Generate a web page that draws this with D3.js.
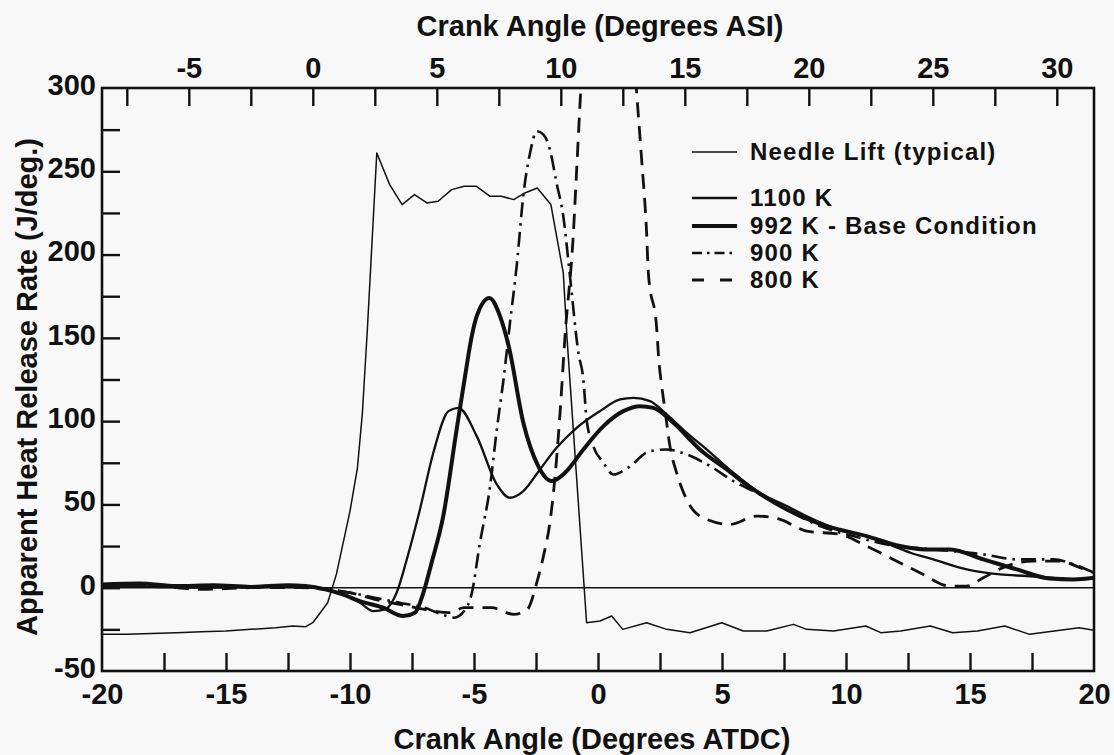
<!DOCTYPE html>
<html>
<head>
<meta charset="utf-8">
<script src="https://cdn.jsdelivr.net/npm/d3@7"></script>
<style>
  html, body { margin: 0; padding: 0; background: #f8f8f8; }
  svg { display: block; }
  text { font-family: "Liberation Sans", Arial, Helvetica, sans-serif; font-weight: bold; fill: #111; }
</style>
</head>
<body>
<svg id="chart" width="1114" height="755"></svg>
<script>
// Crank angle (deg ATDC) and apparent heat release rate (J/deg) pairs
const needleLift = [
  [-20,-28],[-19,-28],[-18,-27.5],[-17,-27],[-16,-26.5],[-15,-26],[-14,-25],[-13,-24],
  [-12.3,-23],[-11.8,-23.5],[-11.5,-21],[-10.9,-9],[-10.55,8],[-10.0,46],[-9.7,72],
  [-9.5,105],[-9.3,155],[-8.92,261],[-8.4,242],[-7.9,230],[-7.4,236],[-6.9,231],
  [-6.45,232],[-5.9,239],[-5.4,241],[-4.9,241],[-4.35,235],[-3.9,235],[-3.4,233],
  [-2.95,237],[-2.45,240],[-1.9,230],[-1.4,189],[-1.25,150],[-0.46,-21],[0.08,-20],
  [0.55,-17],[1.0,-25],[1.96,-21],[2.77,-25],[3.71,-27],[4.99,-21],[5.86,-26],[6.8,-26],
  [7.88,-22],[8.41,-25],[9.5,-26],[10.8,-23],[11.4,-27],[12.2,-26],[13.4,-23],[14.3,-27],
  [15.3,-26],[16.4,-23],[17.4,-28],[18.4,-26],[19.4,-24],[20,-25.5]
];
const hr1100 = [
  [-20,1],[-18,0.5],[-16,0],[-14,0.5],[-12.5,1],[-11.8,0.5],[-11,-1],[-10.3,-4],[-9.6,-9],
  [-9.06,-14],[-8.59,-13],[-8.12,-3],[-7.71,17],[-7.18,47],[-6.64,81],[-6.03,106],
  [-5.63,108],[-4.89,91],[-4.08,62],[-3.55,54],[-3.01,58],[-2.34,71],[-1.67,84],
  [-0.86,96],[0.08,106],[0.89,113],[1.42,114],[2.1,112],[2.77,104],[3.58,93],[4.38,83],
  [5.46,69],[6.53,57],[7.61,49],[8.68,41],[9.49,36],[10.83,31],[11.91,25],[12.6,21],
  [13.52,17],[14.87,11],[16.21,8],[17.29,7],[18.23,6],[19.17,5],[20,5.5]
];
const hr992 = [
  [-20,2],[-18.5,2.5],[-17,1],[-15.5,1.5],[-14,0.5],[-12.5,1.5],[-11.8,1],[-11,-1],
  [-10.3,-4],[-9.6,-8],[-8.66,-12],[-7.85,-17],[-7.38,-15],[-7.04,-3],[-6.71,15],
  [-6.24,43],[-5.7,95],[-5.36,127],[-5.09,151],[-4.89,163],[-4.38,174],[-3.95,163],
  [-3.6,145],[-3.01,99],[-2.41,73],[-1.87,64],[-1.33,69],[-0.59,83],[0.22,97],[1.02,106],
  [1.69,109],[2.23,108],[3.04,99],[4.11,83],[5.19,71],[6.26,59],[7.61,47],[9.22,37],
  [10.83,31],[12.18,25],[13.2,23],[14.19,23],[15.54,17],[16.88,11],[18.23,5.5],
  [19.17,5],[20,6]
];
const hr900 = [
  [-20,1],[-17,1],[-14,0.5],[-12,0.5],[-11,-0.5],[-10,-3],[-9,-6],[-8,-9],[-7,-12],
  [-6.3,-16],[-5.8,-18],[-5.4,-14],[-5.1,-4],[-4.76,27],[-4.35,61],[-4.08,95],[-3.81,125],
  [-3.55,159],[-3.28,193],[-3.0,237],[-2.74,261],[-2.47,274],[-2.2,272],[-1.94,263],
  [-1.67,243],[-1.4,223],[-1.13,187],[-0.79,141],[-0.59,125],[-0.46,101],[-0.19,85],
  [0.22,75],[0.62,68],[1.2,72],[2.1,82],[2.77,83],[3.58,80],[4.52,73],[5.46,64],
  [6.4,57],[7.61,47],[8.95,37],[10.29,31],[11.64,26],[13.52,23],[15.54,20],[16.88,17],
  [18.36,17],[19.17,14],[20,9]
];
const hr800 = [
  [-20,0],[-18,1],[-16,-1],[-14,0],[-12,0],[-11,-1],[-10,-3],[-9,-7],[-8,-10],[-7,-13],
  [-6,-15],[-5.4,-12],[-4.8,-12],[-4.3,-12],[-3.4,-16],[-2.85,-13],[-2.47,3],[-2.2,19],
  [-1.94,39],[-1.73,67],[-1.53,105],[-1.33,151],[-1.0,211],[-0.86,251],[-0.73,289],
  [-0.2,420],[0.4,490],[1.0,420],[1.56,297],[1.76,257],[1.96,213],[2.03,189],[2.37,155],
  [2.44,139],[2.57,121],[2.7,107],[2.9,85],[3.17,69],[3.51,55],[4.11,43],[5.32,38],
  [6.4,43],[7.34,41],[8.41,34],[9.76,32],[10.83,25],[11.91,17],[12.98,9],[14.19,1],
  [14.87,1],[15.54,6],[16.48,13],[17.55,16],[18.63,16],[19.44,12],[20,9]
];

const seriesNames = ["Needle Lift (typical)", "1100 K", "992 K - Base Condition", "900 K", "800 K"];
const seriesData = [needleLift, hr1100, hr992, hr900, hr800];

// Tick values
const bottomLabels = [-20, -15, -10, -5, 0, 5, 10, 15, 20];
const topLabels = [-5, 0, 5, 10, 15, 20, 25, 30];
const leftLabels = [-50, 0, 50, 100, 150, 200, 250, 300];
const asiOffset = 11.5; // deg ASI = deg ATDC + offset

// Line styles per series
const styles = [
  { width: 1.5, dash: null, legendDash: null, curve: d3.curveLinear },
  { width: 2.3, dash: null, legendDash: null, curve: d3.curveMonotoneX },
  { width: 4.0, dash: null, legendDash: null, curve: d3.curveMonotoneX },
  { width: 2.6, dash: "15,6,2.5,6", legendDash: "10,5,2.5,5", curve: d3.curveMonotoneX },
  { width: 2.8, dash: "15,9", legendDash: "12,16", curve: d3.curveMonotoneX }
];

const L = 102, R = 1094, T = 88, B = 671;
const svg = d3.select("#chart");

const x = d3.scaleLinear().domain([-20, 20]).range([L, R]);
const xTop = d3.scaleLinear().domain([-20 + asiOffset, 20 + asiOffset]).range([L, R]);
const y = d3.scaleLinear().domain([-50, 300]).range([B, T]);

svg.append("defs").append("clipPath").attr("id", "plotClip")
  .append("rect").attr("x", L).attr("y", T).attr("width", R - L).attr("height", B - T);

// zero reference line
svg.append("line")
  .attr("x1", x(-20)).attr("x2", x(20)).attr("y1", y(0)).attr("y2", y(0))
  .attr("stroke", "#111").attr("stroke-width", 1.6);

// curves
const plot = svg.append("g").attr("clip-path", "url(#plotClip)");
seriesData.forEach((d, i) => {
  const st = styles[i];
  const line = d3.line().x(p => x(p[0])).y(p => y(p[1])).curve(st.curve);
  plot.append("path").datum(d)
    .attr("d", line)
    .attr("fill", "none")
    .attr("stroke", "#111")
    .attr("stroke-width", st.width)
    .attr("stroke-linejoin", "round")
    .attr("stroke-dasharray", st.dash);
});

// frame
svg.append("rect").attr("x", L).attr("y", T).attr("width", R - L).attr("height", B - T)
  .attr("fill", "none").attr("stroke", "#111").attr("stroke-width", 2.6);

const fontSize = 29;
const plain = d => String(d); // plain hyphen for negatives
function styleAxis(g) {
  g.select(".domain").remove();
  g.selectAll(".tick line").attr("stroke", "#111").attr("stroke-width", 2.4);
  g.selectAll(".tick text").style("font-size", fontSize + "px").attr("fill", "#111");
}

// bottom axis: inward ticks + labels
svg.append("g").attr("transform", `translate(0,${B})`)
  .call(d3.axisBottom(x).tickValues(d3.range(-17.5, 17.6, 2.5)).tickSize(-18).tickFormat(""))
  .call(styleAxis);
svg.append("g").attr("transform", `translate(0,${B})`)
  .call(d3.axisBottom(x).tickValues(bottomLabels).tickSize(0).tickPadding(12).tickFormat(plain))
  .call(styleAxis);

// top axis (ASI)
svg.append("g").attr("transform", `translate(0,${T})`)
  .call(d3.axisTop(xTop).tickValues(d3.range(-7.5, 30.1, 2.5)).tickSize(-18).tickFormat(""))
  .call(styleAxis);
svg.append("g").attr("transform", `translate(0,${T})`)
  .call(d3.axisTop(xTop).tickValues(topLabels).tickSize(0).tickPadding(10).tickFormat(plain))
  .call(styleAxis);

// left axis
svg.append("g").attr("transform", `translate(${L},0)`)
  .call(d3.axisLeft(y).tickValues(d3.range(-25, 276, 25)).tickSize(-18).tickFormat(""))
  .call(styleAxis);
svg.append("g").attr("transform", `translate(${L},0)`)
  .call(d3.axisLeft(y).tickValues(leftLabels).tickSize(0).tickPadding(6).tickFormat(plain))
  .call(styleAxis)
  .call(g => g.selectAll(".tick text").attr("dy", "0.22em"));

// axis titles
svg.append("text").attr("x", 600).attr("y", 36).attr("text-anchor", "middle")
  .style("font-size", fontSize + "px").text("Crank Angle (Degrees ASI)");
svg.append("text").attr("x", 592).attr("y", 749).attr("text-anchor", "middle")
  .style("font-size", fontSize + "px").text("Crank Angle (Degrees ATDC)");
svg.append("text").attr("transform", "translate(37,387) rotate(-90)").attr("text-anchor", "middle")
  .style("font-size", fontSize + "px").text("Apparent Heat Release Rate (J/deg.)");

// legend
const legendRows = [152, 198, 226, 253, 280];
const legend = svg.append("g");
seriesNames.forEach((name, i) => {
  const st = styles[i];
  const g = legend.append("g").attr("transform", `translate(0,${legendRows[i]})`);
  g.append("line").attr("x1", 692).attr("x2", 737).attr("y1", 0).attr("y2", 0)
    .attr("stroke", "#111").attr("stroke-width", st.width)
    .attr("stroke-dasharray", st.legendDash);
  g.append("text").attr("x", 750).attr("y", 0).attr("dy", "0.35em")
    .style("font-size", "24px").style("letter-spacing", "1.2px").text(name);
});
</script>
</body>
</html>
